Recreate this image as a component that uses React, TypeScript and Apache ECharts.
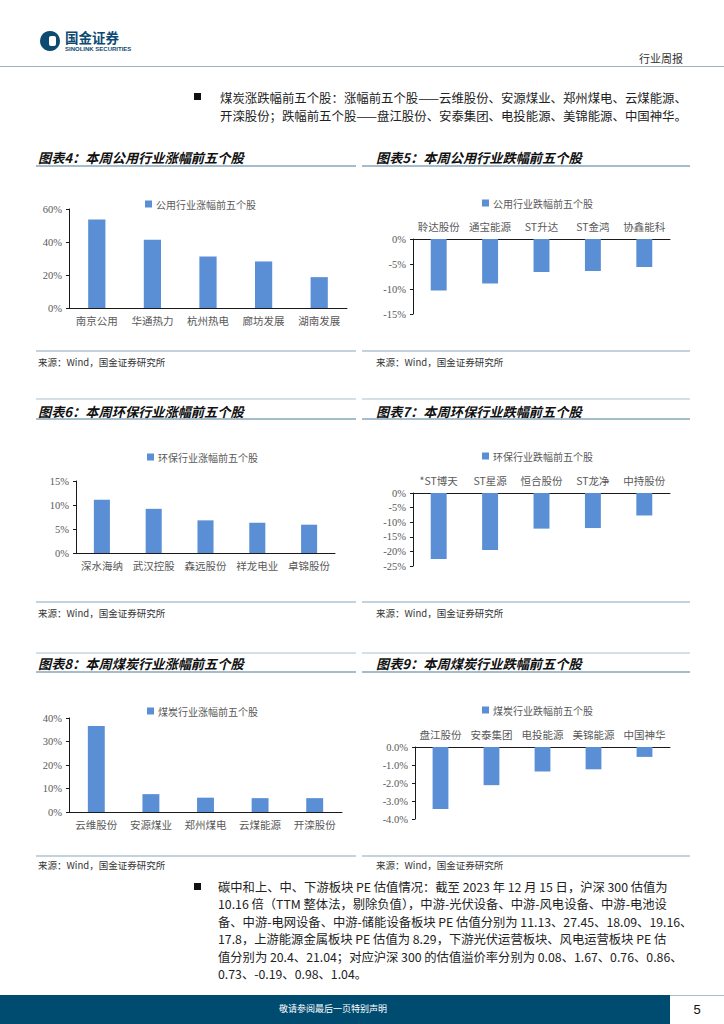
import React, { useEffect, useRef } from "react";
import * as echarts from "echarts";

// ---------- data ----------
const util4Cats = ["南京公用", "华通热力", "杭州热电", "廊坊发展", "湖南发展"];
const util4Vals = [53.7, 41.4, 31.2, 28.2, 18.7];
const util5Cats = ["聆达股份", "通宝能源", "ST升达", "ST金鸿", "协鑫能科"];
const util5Vals = [-10.3, -8.9, -6.6, -6.4, -5.6];
const env6Cats = ["深水海纳", "武汉控股", "森远股份", "祥龙电业", "卓锦股份"];
const env6Vals = [11.1, 9.2, 6.8, 6.3, 5.9];
const env7Cats = ["*ST博天", "ST星源", "恒合股份", "ST龙净", "中持股份"];
const env7Vals = [-22.6, -19.5, -12.2, -12.0, -7.7];
const coal8Cats = ["云维股份", "安源煤业", "郑州煤电", "云煤能源", "开滦股份"];
const coal8Vals = [36.6, 7.6, 6.1, 5.9, 5.9];
const coal9Cats = ["盘江股份", "安泰集团", "电投能源", "美锦能源", "中国神华"];
const coal9Vals = [-3.45, -2.12, -1.36, -1.24, -0.55];

const seriesNames = [
  "公用行业涨幅前五个股",
  "公用行业跌幅前五个股",
  "环保行业涨幅前五个股",
  "环保行业跌幅前五个股",
  "煤炭行业涨幅前五个股",
  "煤炭行业跌幅前五个股",
];
const chartTitles = [
  "图表4：本周公用行业涨幅前五个股",
  "图表5：本周公用行业跌幅前五个股",
  "图表6：本周环保行业涨幅前五个股",
  "图表7：本周环保行业跌幅前五个股",
  "图表8：本周煤炭行业涨幅前五个股",
  "图表9：本周煤炭行业跌幅前五个股",
];
// axis ranges [min, max, interval, decimals]
const axisRanges = [
  [0, 60, 20, 0],
  [-15, 0, 5, 0],
  [0, 15, 5, 0],
  [-25, 0, 5, 0],
  [0, 40, 10, 0],
  [-4, 0, 1, 1],
];
const sourceText = "来源：Wind，国金证券研究所";
const topPara = [
  "煤炭涨跌幅前五个股：涨幅前五个股——云维股份、安源煤业、郑州煤电、云煤能源、",
  "开滦股份；跌幅前五个股——盘江股份、安泰集团、电投能源、美锦能源、中国神华。",
];
const bottomPara = [
  "碳中和上、中、下游板块 PE 估值情况：截至 2023 年 12 月 15 日，沪深 300 估值为",
  "10.16 倍（TTM 整体法，剔除负值），中游-光伏设备、中游-风电设备、中游-电池设",
  "备、中游-电网设备、中游-储能设备板块 PE 估值分别为 11.13、27.45、18.09、19.16、",
  "17.8，上游能源金属板块 PE 估值为 8.29，下游光伏运营板块、风电运营板块 PE 估",
  "值分别为 20.4、21.04；对应沪深 300 的估值溢价率分别为 0.08、1.67、0.76、0.86、",
  "0.73、-0.19、0.98、1.04。",
];

const catsList = [util4Cats, util5Cats, env6Cats, env7Cats, coal8Cats, coal9Cats];
const valsList = [util4Vals, util5Vals, env6Vals, env7Vals, coal8Vals, coal9Vals];

// ---------- layout ----------
const grids = [
  { left: 69, top: 209, width: 278, height: 99, lx: 145, ly: 205 },
  { left: 413, top: 239, width: 257, height: 75, lx: 482, ly: 204 },
  { left: 76, top: 481, width: 259, height: 72, lx: 147, ly: 458 },
  { left: 413, top: 493, width: 257, height: 73, lx: 482, ly: 457 },
  { left: 69, top: 718, width: 273, height: 94, lx: 147, ly: 712 },
  { left: 415, top: 747, width: 255, height: 72, lx: 482, ly: 711 },
];

const BAR = "#5a8fd6";
const GRAY = "#595959";
const LINE = "#87a6bb";
const SERIF = '"Liberation Serif", "Noto Sans CJK SC", serif';
const CJK = '"Noto Sans CJK SC", sans-serif';
const NAVY = "#004b70";

function txt(x: number, y: number, text: string, o: any = {}) {
  const align = o.align || "left";
  const va = o.va || "middle";
  return {
    type: "text",
    x,
    y,
    silent: true,
    style: {
      text,
      x: 0,
      y: 0,
      fill: o.fill || "#222",
      fontSize: o.size || 12,
      fontFamily: o.family || CJK,
      fontWeight: o.weight || "normal",
      fontStyle: o.style || "normal",
      lineHeight: o.lh || undefined,
      align,
      verticalAlign: va,
      textAlign: align,
      textVerticalAlign: va,
    },
  };
}
function hline(x1: number, x2: number, y: number, stroke: string, w = 1) {
  return {
    type: "line",
    silent: true,
    shape: { x1, y1: y, x2, y2: y },
    style: { stroke, lineWidth: w },
  };
}

function buildGraphic() {
  const els: any[] = [];
  // header
  els.push({ type: "circle", shape: { cx: 50, cy: 41, r: 10 }, style: { fill: "#0d4a72" } });
  els.push({ type: "rect", shape: { x: 49, y: 36, width: 7, height: 10, r: 2 }, style: { fill: "#fff" } });
  els.push(txt(65, 36.5, "国金证券", { size: 13.5, weight: "bold", fill: "#0d4a72", lh: 14 }));
  els.push(txt(65, 48.5, "SINOLINK SECURITIES", { size: 6, weight: "bold", fill: "#0d4a72", lh: 6, family: '"Liberation Sans", sans-serif' }));
  els.push(txt(683, 58, "行业周报", { size: 11, align: "right", fill: "#333" }));
  els.push(hline(0, 724, 66.5, "#9db2c1", 1.2));

  // top paragraph
  els.push({ type: "rect", shape: { x: 194, y: 93, width: 7, height: 7 }, style: { fill: "#111" } });
  topPara.forEach((t, i) => els.push(txt(220, 98 + i * 18, t, { size: 12.4, fill: "#222" })));

  // panel decorations
  const rows = [
    { titleY: 157, topLine: null as number | null, lineY: 166, srcLine: 351, srcY: 362 },
    { titleY: 411, topLine: 399, lineY: 419, srcLine: 602, srcY: 613 },
    { titleY: 663, topLine: 653, lineY: 672, srcLine: 856, srcY: 865 },
  ];
  rows.forEach((r, ri) => {
    [0, 1].forEach((ci) => {
      const x1 = ci === 0 ? 36 : 362;
      const x2 = ci === 0 ? 356 : 690;
      const idx = ri * 2 + ci;
      if (r.topLine !== null) els.push(hline(x1, x2, r.topLine, "#a9c0cf", 1));
      els.push(txt(x1 + 2 + (ci === 1 ? 12 : 0), r.titleY, chartTitles[idx], {
        size: 13.2, weight: "bold", style: "italic", fill: "#111",
      }));
      els.push(hline(x1, x2, r.lineY, LINE, 1.3));
      els.push(hline(x1, x2, r.srcLine, LINE, 1));
      els.push(txt(x1 + 2 + (ci === 1 ? 12 : 0), r.srcY, sourceText, { size: 9.5, fill: "#333" }));
    });
  });

  // bottom paragraph
  els.push({ type: "rect", shape: { x: 194, y: 883, width: 7, height: 7 }, style: { fill: "#111" } });
  bottomPara.forEach((t, i) => els.push(txt(218, 887 + i * 17.4, t, { size: 12.3, fill: "#222" })));

  // footer
  els.push({ type: "rect", shape: { x: 0, y: 995, width: 670, height: 29 }, style: { fill: NAVY } });
  els.push(hline(670, 724, 995.5, "#a9bccb", 1));
  els.push(txt(333, 1008, "敬请参阅最后一页特别声明", { size: 9, align: "center", fill: "#fff" }));
  els.push(txt(697, 1009, "5", { size: 13, align: "center", fill: "#111", family: '"Liberation Sans", sans-serif' }));
  return els;
}

function buildOption() {
  const grid: any[] = [];
  const xAxis: any[] = [];
  const yAxis: any[] = [];
  const series: any[] = [];
  const legend: any[] = [];
  grids.forEach((g, i) => {
    const [min, max, interval, dec] = axisRanges[i];
    const neg = max <= 0;
    grid.push({ left: g.left, top: g.top, width: g.width, height: g.height, containLabel: false });
    xAxis.push({
      type: "category",
      gridIndex: i,
      data: catsList[i],
      position: neg ? "top" : "bottom",
      axisLine: { show: true, onZero: false, lineStyle: { color: "#1a1a1a", width: 1 } },
      axisTick: { show: false },
      axisLabel: { color: GRAY, fontSize: 10.5, fontFamily: CJK, margin: 7, interval: 0 },
    });
    yAxis.push({
      type: "value",
      gridIndex: i,
      min,
      max,
      interval,
      axisLine: { show: true, lineStyle: { color: "#1a1a1a", width: 1 } },
      axisTick: { show: true, length: 3, lineStyle: { color: "#1a1a1a" } },
      splitLine: { show: false },
      axisLabel: {
        color: GRAY,
        fontSize: 10.5,
        fontFamily: SERIF,
        margin: 7,
        formatter: (v: number) => v.toFixed(dec as number) + "%",
      },
    });
    series.push({
      name: seriesNames[i],
      type: "bar",
      xAxisIndex: i,
      yAxisIndex: i,
      data: valsList[i],
      barWidth: "31%",
      itemStyle: { color: BAR },
      silent: true,
    });
    legend.push({
      data: [seriesNames[i]],
      left: g.lx,
      top: g.ly - 6,
      padding: 0,
      itemWidth: 7,
      itemHeight: 7,
      itemGap: 4,
      icon: "rect",
      selectedMode: false,
      textStyle: { color: GRAY, fontSize: 10, fontFamily: CJK, padding: [0, 0, 0, -1] },
    });
  });
  return {
    animation: false,
    backgroundColor: "#ffffff",
    grid,
    xAxis,
    yAxis,
    series,
    legend,
    graphic: { elements: buildGraphic() },
  };
}

export default function App() {
  const ref = useRef<HTMLDivElement>(null);
  useEffect(() => {
    if (!ref.current) return;
    const chart = echarts.init(ref.current, undefined, { renderer: "svg" });
    chart.setOption(buildOption() as any);
    return () => chart.dispose();
  }, []);
  return (
    <div
      ref={ref}
      style={{ position: "absolute", left: 0, top: 0, width: 724, height: 1024, background: "#fff" }}
    />
  );
}
